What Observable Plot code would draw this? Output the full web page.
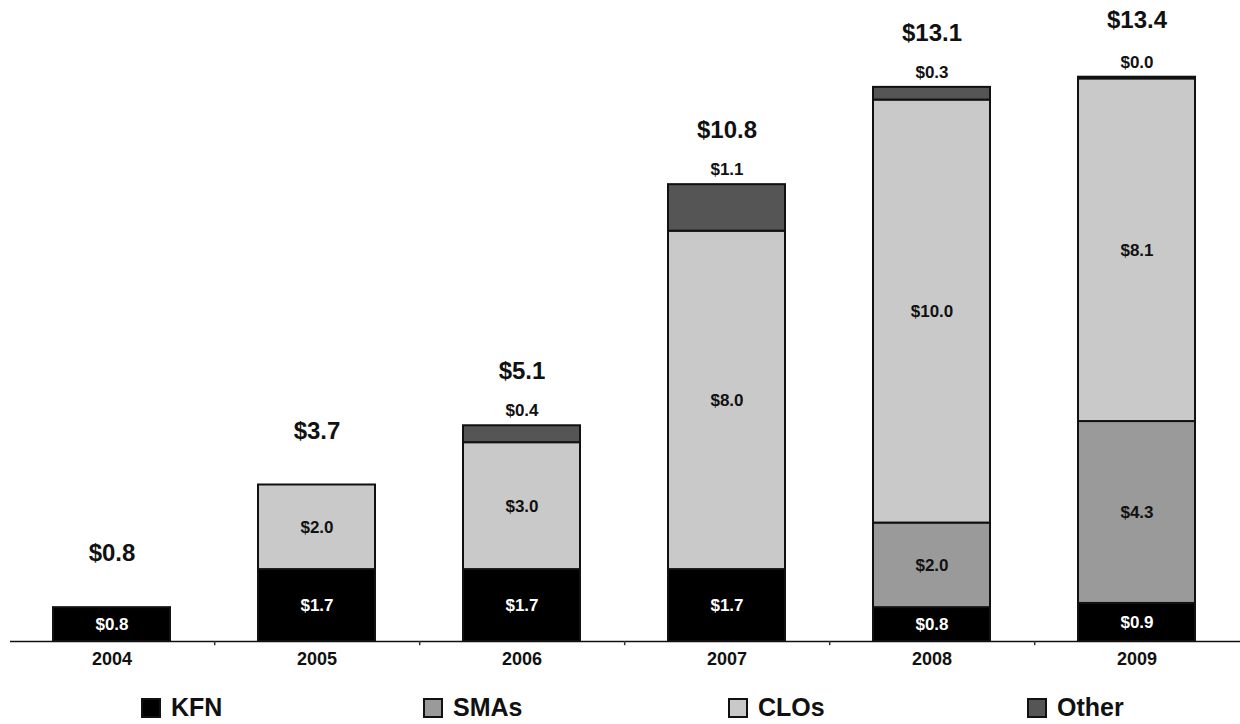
<!DOCTYPE html>
<html>
<head>
<meta charset="utf-8">
<script src="https://cdn.jsdelivr.net/npm/d3@7"></script>
<script src="https://cdn.jsdelivr.net/npm/@observablehq/plot@0.6"></script>
<style>
  html, body { margin: 0; padding: 0; background: #fff; }
  #wrap { position: relative; width: 1240px; height: 724px; font-family: "Liberation Sans", Arial, sans-serif; }
  #legend { position: absolute; top: 693px; left: 0; width: 1240px; height: 28px; }
  .item { position: absolute; top: 0; display: flex; align-items: center; font-weight: bold; font-size: 25px; color: #111; }
  .sw { width: 16px; height: 16px; border: 2px solid #111; margin-right: 10px; box-sizing: content-box; }
  svg text { font-family: "Liberation Sans", Arial, sans-serif; }
</style>
</head>
<body>
<div id="wrap">
  <div id="chart"></div>
  <div id="legend"></div>
</div>
<script>
const years = ["2004", "2005", "2006", "2007", "2008", "2009"];
const series = ["KFN", "SMAs", "CLOs", "Other"];
const colors = ["#000000", "#9a9a9a", "#c9c9c9", "#555555"];
const kfn   = [0.8, 1.7, 1.7, 1.7, 0.8, 0.9];
const smas  = [0, 0, 0, 0, 2.0, 4.3];
const clos  = [0, 2.0, 3.0, 8.0, 10.0, 8.1];
const other = [0, 0, 0.4, 1.1, 0.3, 0.04];
const totals = [0.8, 3.7, 5.1, 10.8, 13.1, 13.4];
const legendLeft = [141, 423, 728, 1027];

const valuesBySeries = [kfn, smas, clos, other];
const rows = [];
years.forEach((y, i) => {
  series.forEach((s, j) => {
    const v = valuesBySeries[j][i];
    if (v > 0) rows.push({year: y, series: s, value: v});
  });
});
const totalRows = years.map((y, i) => ({year: y, total: totals[i]}));
const otherTop = years.map((y, i) => ({
  year: y,
  top: kfn[i] + smas[i] + clos[i] + other[i],
  value: other[i]
})).filter(d => d.value > 0);
const inner = rows.filter(d => d.series !== "Other");
const fmt = v => "$" + v.toFixed(1);

const chart = Plot.plot({
  width: 1240,
  height: 680,
  marginTop: 0,
  marginBottom: 39,
  marginLeft: 8,
  marginRight: 0,
  x: {domain: years, paddingInner: 0.43, paddingOuter: 0.215, axis: null, label: null},
  y: {domain: [0, 641 / 42.3], axis: null},
  color: {domain: series, range: colors},
  marks: [
    Plot.barY(rows, Plot.stackY({
      x: "year", y: "value", fill: "series", order: series,
      stroke: "#111", strokeWidth: 2
    })),
    Plot.ruleY([0], {stroke: "#111", strokeWidth: 1.5, dx: 2}),
    Plot.ruleX(years.slice(0, -1), {x: d => d, y1: 0, y2: -0.1, dx: 102.7, stroke: "#333", strokeWidth: 1.5}),
    Plot.text(inner, Plot.stackY({
      x: "year", y: "value", z: "series", order: series,
      text: d => fmt(d.value),
      fill: d => d.series === "KFN" ? "#fff" : "#111",
      fontSize: 17, fontWeight: "bold"
    })),
    Plot.text(otherTop, {
      x: "year", y: "top", text: d => fmt(d.value), dy: -15,
      fill: "#111", fontSize: 17, fontWeight: "bold"
    }),
    Plot.text(totalRows, {
      x: "year", y: "total", text: d => fmt(d.total), dy: -54,
      fill: "#111", fontSize: 24, fontWeight: "bold"
    }),
    Plot.axisX({tickSize: 0, tickPadding: 11, fontSize: 18, fontWeight: "bold", fill: "#111", label: null})
  ]
});
document.getElementById("chart").appendChild(chart);

const leg = document.getElementById("legend");
series.forEach((s, i) => {
  const it = document.createElement("div");
  it.className = "item";
  it.style.left = legendLeft[i] + "px";
  const sw = document.createElement("span");
  sw.className = "sw";
  sw.style.background = colors[i];
  const t = document.createElement("span");
  t.textContent = s;
  it.appendChild(sw);
  it.appendChild(t);
  leg.appendChild(it);
});
</script>
</body>
</html>
